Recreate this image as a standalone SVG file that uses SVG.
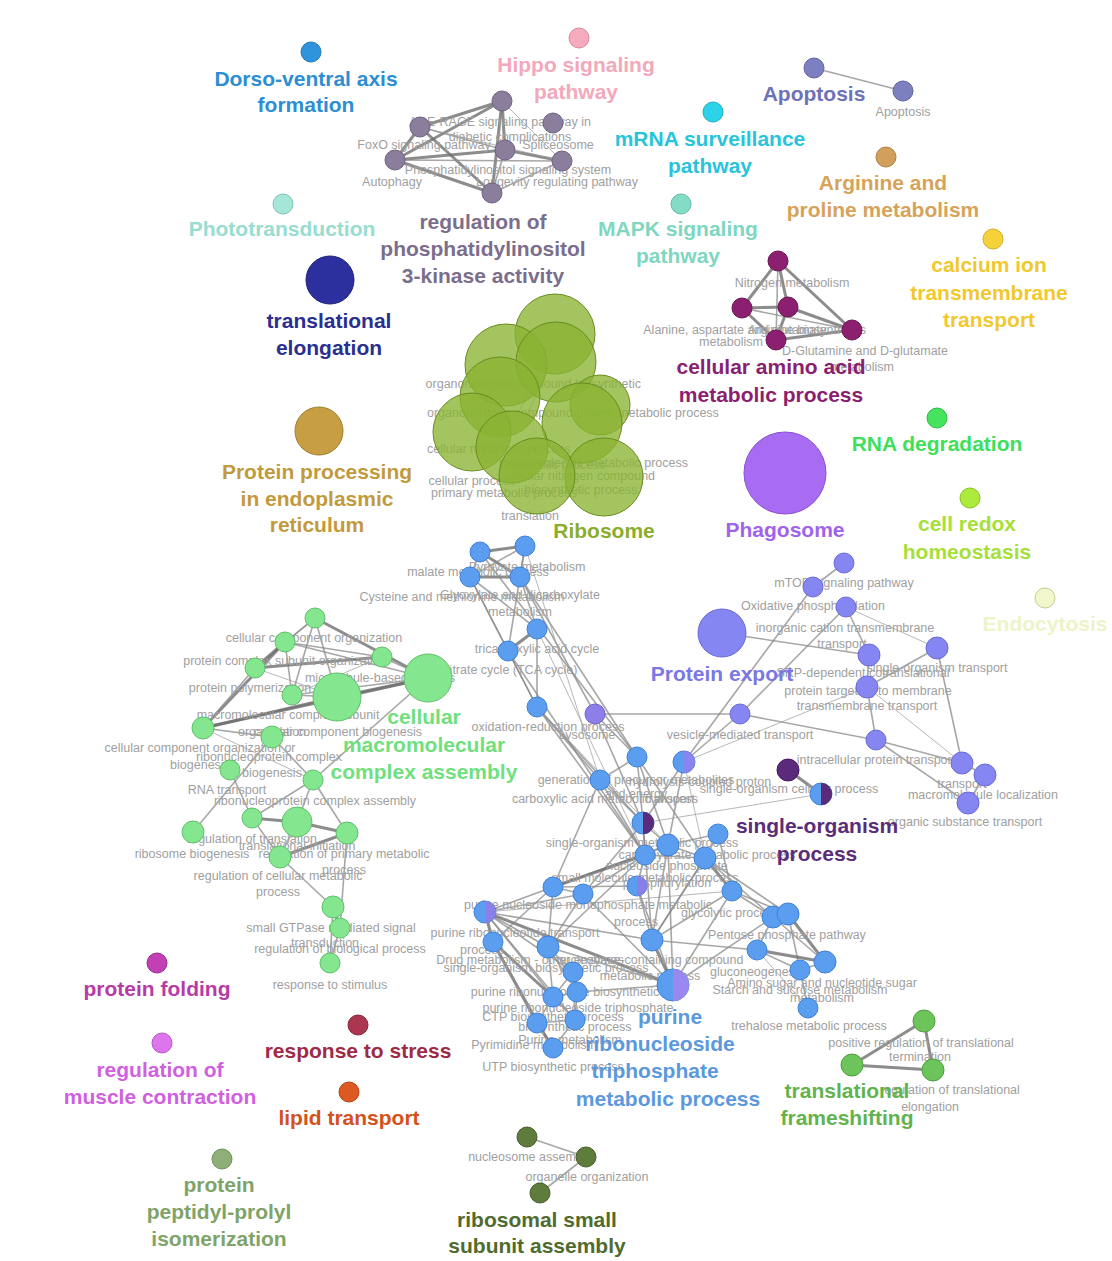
<svg xmlns="http://www.w3.org/2000/svg" width="1112" height="1261" viewBox="0 0 1112 1261">
<style>
.lb{font-family:"Liberation Sans",Arial,sans-serif;font-weight:bold;font-size:21px;text-anchor:middle}
.sm{font-family:"Liberation Sans",Arial,sans-serif;font-size:12.5px;fill:#a0a0a0;text-anchor:middle}
.e{stroke:#8a8a8a;stroke-width:1.6;opacity:.75}
.t{stroke:#707070;stroke-width:3;opacity:.8}
.n{stroke:#9a9a9a;stroke-width:1;opacity:.7}
.pi{fill:#8b7d9c;stroke:#6f6282;stroke-width:1}
.aa{fill:#8c1f70;stroke:#6a1554;stroke-width:1}
.gr{fill:#84e68e;stroke:#5fbf6b;stroke-width:1}
.bl{fill:#5b9ef0;stroke:#3f80d6;stroke-width:1}
.vb{fill:#8686f2;stroke:#6a6ad8;stroke-width:1}
.dp{fill:#5b2a7a;stroke:#45195e;stroke-width:1}
.rb{fill:#8ab432;fill-opacity:.78;stroke:#6a8c1e;stroke-width:1}
</style>
<rect width="1112" height="1261" fill="#ffffff"/>

<g id="connectors">
<line class="e" x1="814" y1="68" x2="903" y2="91"/>
<line class="t" x1="420" y1="127" x2="502" y2="101"/>
<line class="t" x1="395" y1="160" x2="502" y2="101"/>
<line class="e" x1="420" y1="127" x2="505" y2="150"/>
<line class="t" x1="420" y1="127" x2="492" y2="193"/>
<line class="t" x1="420" y1="127" x2="395" y2="160"/>
<line class="t" x1="502" y1="101" x2="505" y2="150"/>
<line class="t" x1="502" y1="101" x2="492" y2="193"/>
<line class="n" x1="502" y1="101" x2="562" y2="161"/>
<line class="t" x1="395" y1="160" x2="505" y2="150"/>
<line class="e" x1="395" y1="160" x2="562" y2="161"/>
<line class="t" x1="395" y1="160" x2="492" y2="193"/>
<line class="t" x1="505" y1="150" x2="562" y2="161"/>
<line class="e" x1="562" y1="161" x2="492" y2="193"/>
<line class="n" x1="420" y1="127" x2="562" y2="161"/>
<line class="e" x1="505" y1="150" x2="492" y2="193"/>
<line class="t" x1="778" y1="261" x2="742" y2="308"/>
<line class="t" x1="778" y1="261" x2="788" y2="307"/>
<line class="e" x1="778" y1="261" x2="776" y2="340"/>
<line class="t" x1="778" y1="261" x2="852" y2="330"/>
<line class="t" x1="742" y1="308" x2="788" y2="307"/>
<line class="t" x1="742" y1="308" x2="776" y2="340"/>
<line class="e" x1="742" y1="308" x2="852" y2="330"/>
<line class="t" x1="788" y1="307" x2="776" y2="340"/>
<line class="t" x1="788" y1="307" x2="852" y2="330"/>
<line class="t" x1="776" y1="340" x2="852" y2="330"/>
<line class="n" x1="540" y1="370" x2="520" y2="410"/>
<line class="n" x1="548" y1="368" x2="528" y2="412"/>
<line class="e" x1="315" y1="618" x2="285" y2="642"/>
<line class="e" x1="315" y1="618" x2="255" y2="668"/>
<line class="e" x1="315" y1="618" x2="292" y2="695"/>
<line class="t" x1="315" y1="618" x2="428" y2="678"/>
<line class="e" x1="315" y1="618" x2="337" y2="697"/>
<line class="t" x1="285" y1="642" x2="255" y2="668"/>
<line class="e" x1="285" y1="642" x2="382" y2="657"/>
<line class="e" x1="285" y1="642" x2="292" y2="695"/>
<line class="t" x1="285" y1="642" x2="203" y2="728"/>
<line class="e" x1="285" y1="642" x2="428" y2="678"/>
<line class="t" x1="255" y1="668" x2="382" y2="657"/>
<line class="e" x1="255" y1="668" x2="203" y2="728"/>
<line class="n" x1="255" y1="668" x2="337" y2="697"/>
<line class="e" x1="382" y1="657" x2="428" y2="678"/>
<line class="n" x1="382" y1="657" x2="292" y2="695"/>
<line class="e" x1="292" y1="695" x2="337" y2="697"/>
<line class="e" x1="292" y1="695" x2="428" y2="678"/>
<line class="t" x1="337" y1="697" x2="203" y2="728"/>
<line class="t" x1="428" y1="678" x2="203" y2="728"/>
<line class="t" x1="337" y1="697" x2="428" y2="678"/>
<line class="e" x1="203" y1="728" x2="272" y2="737"/>
<line class="e" x1="272" y1="737" x2="313" y2="780"/>
<line class="n" x1="203" y1="728" x2="313" y2="780"/>
<line class="e" x1="428" y1="678" x2="313" y2="780"/>
<line class="e" x1="230" y1="770" x2="252" y2="818"/>
<line class="e" x1="193" y1="832" x2="272" y2="737"/>
<line class="e" x1="313" y1="780" x2="252" y2="818"/>
<line class="e" x1="313" y1="780" x2="297" y2="822"/>
<line class="e" x1="313" y1="780" x2="347" y2="833"/>
<line class="t" x1="252" y1="818" x2="297" y2="822"/>
<line class="e" x1="252" y1="818" x2="280" y2="857"/>
<line class="t" x1="297" y1="822" x2="347" y2="833"/>
<line class="e" x1="297" y1="822" x2="280" y2="857"/>
<line class="t" x1="347" y1="833" x2="280" y2="857"/>
<line class="e" x1="280" y1="857" x2="333" y2="907"/>
<line class="e" x1="347" y1="833" x2="340" y2="928"/>
<line class="t" x1="333" y1="907" x2="340" y2="928"/>
<line class="e" x1="340" y1="928" x2="330" y2="963"/>
<line class="e" x1="333" y1="907" x2="330" y2="963"/>
<line class="t" x1="480" y1="552" x2="525" y2="546"/>
<line class="e" x1="480" y1="552" x2="470" y2="577"/>
<line class="t" x1="480" y1="552" x2="520" y2="577"/>
<line class="e" x1="525" y1="546" x2="470" y2="577"/>
<line class="e" x1="525" y1="546" x2="520" y2="577"/>
<line class="t" x1="470" y1="577" x2="520" y2="577"/>
<line class="e" x1="470" y1="577" x2="537" y2="629"/>
<line class="e" x1="520" y1="577" x2="537" y2="629"/>
<line class="t" x1="537" y1="629" x2="508" y2="651"/>
<line class="e" x1="470" y1="577" x2="508" y2="651"/>
<line class="e" x1="525" y1="546" x2="508" y2="651"/>
<line class="e" x1="537" y1="629" x2="537" y2="707"/>
<line class="e" x1="470" y1="577" x2="537" y2="707"/>
<line class="e" x1="480" y1="552" x2="637" y2="757"/>
<line class="e" x1="520" y1="577" x2="595" y2="714"/>
<line class="e" x1="520" y1="577" x2="637" y2="757"/>
<line class="n" x1="525" y1="546" x2="600" y2="780"/>
<line class="e" x1="508" y1="651" x2="537" y2="707"/>
<line class="e" x1="508" y1="651" x2="645" y2="855"/>
<line class="n" x1="537" y1="629" x2="645" y2="855"/>
<line class="e" x1="537" y1="707" x2="600" y2="780"/>
<line class="e" x1="537" y1="707" x2="643" y2="823"/>
<line class="e" x1="537" y1="707" x2="645" y2="855"/>
<line class="n" x1="537" y1="707" x2="668" y2="845"/>
<line class="e" x1="637" y1="757" x2="600" y2="780"/>
<line class="e" x1="637" y1="757" x2="643" y2="823"/>
<line class="e" x1="637" y1="757" x2="668" y2="845"/>
<line class="e" x1="637" y1="757" x2="705" y2="858"/>
<line class="e" x1="637" y1="757" x2="595" y2="714"/>
<line class="e" x1="595" y1="714" x2="643" y2="823"/>
<line class="e" x1="595" y1="714" x2="740" y2="714"/>
<line class="e" x1="684" y1="762" x2="643" y2="823"/>
<line class="e" x1="684" y1="762" x2="668" y2="845"/>
<line class="n" x1="684" y1="762" x2="705" y2="858"/>
<line class="e" x1="684" y1="762" x2="813" y2="587"/>
<line class="e" x1="684" y1="762" x2="740" y2="714"/>
<line class="n" x1="684" y1="762" x2="867" y2="687"/>
<line class="e" x1="600" y1="780" x2="643" y2="823"/>
<line class="e" x1="600" y1="780" x2="553" y2="887"/>
<line class="e" x1="600" y1="780" x2="645" y2="855"/>
<line class="e" x1="643" y1="823" x2="645" y2="855"/>
<line class="e" x1="643" y1="823" x2="668" y2="845"/>
<line class="e" x1="643" y1="823" x2="652" y2="940"/>
<line class="e" x1="643" y1="823" x2="583" y2="894"/>
<line class="n" x1="643" y1="823" x2="821" y2="794"/>
<line class="e" x1="718" y1="834" x2="668" y2="845"/>
<line class="e" x1="718" y1="834" x2="705" y2="858"/>
<line class="e" x1="718" y1="834" x2="732" y2="891"/>
<line class="e" x1="668" y1="845" x2="645" y2="855"/>
<line class="e" x1="668" y1="845" x2="705" y2="858"/>
<line class="e" x1="668" y1="845" x2="553" y2="887"/>
<line class="e" x1="645" y1="855" x2="705" y2="858"/>
<line class="t" x1="645" y1="855" x2="553" y2="887"/>
<line class="e" x1="645" y1="855" x2="583" y2="894"/>
<line class="t" x1="705" y1="858" x2="732" y2="891"/>
<line class="e" x1="705" y1="858" x2="773" y2="917"/>
<line class="e" x1="705" y1="858" x2="788" y2="914"/>
<line class="e" x1="732" y1="891" x2="773" y2="917"/>
<line class="e" x1="732" y1="891" x2="788" y2="914"/>
<line class="t" x1="773" y1="917" x2="788" y2="914"/>
<line class="e" x1="773" y1="917" x2="757" y2="950"/>
<line class="e" x1="773" y1="917" x2="825" y2="962"/>
<line class="t" x1="788" y1="914" x2="825" y2="962"/>
<line class="e" x1="788" y1="914" x2="800" y2="970"/>
<line class="t" x1="757" y1="950" x2="825" y2="962"/>
<line class="e" x1="757" y1="950" x2="800" y2="970"/>
<line class="e" x1="825" y1="962" x2="800" y2="970"/>
<line class="e" x1="800" y1="970" x2="808" y2="1008"/>
<line class="n" x1="757" y1="950" x2="808" y2="1008"/>
<line class="e" x1="553" y1="887" x2="485" y2="912"/>
<line class="e" x1="553" y1="887" x2="583" y2="894"/>
<line class="e" x1="553" y1="887" x2="548" y2="947"/>
<line class="e" x1="583" y1="894" x2="485" y2="912"/>
<line class="e" x1="583" y1="894" x2="548" y2="947"/>
<line class="e" x1="583" y1="894" x2="673" y2="985"/>
<line class="e" x1="637" y1="886" x2="652" y2="940"/>
<line class="e" x1="637" y1="886" x2="645" y2="855"/>
<line class="e" x1="637" y1="886" x2="673" y2="985"/>
<line class="e" x1="637" y1="886" x2="553" y2="887"/>
<line class="t" x1="652" y1="940" x2="673" y2="985"/>
<line class="e" x1="652" y1="940" x2="757" y2="950"/>
<line class="e" x1="652" y1="940" x2="485" y2="912"/>
<line class="e" x1="652" y1="940" x2="732" y2="891"/>
<line class="e" x1="652" y1="940" x2="705" y2="858"/>
<line class="t" x1="485" y1="912" x2="493" y2="942"/>
<line class="e" x1="485" y1="912" x2="548" y2="947"/>
<line class="e" x1="485" y1="912" x2="573" y2="972"/>
<line class="e" x1="485" y1="912" x2="553" y2="997"/>
<line class="t" x1="485" y1="912" x2="673" y2="985"/>
<line class="e" x1="485" y1="912" x2="575" y2="1020"/>
<line class="n" x1="485" y1="912" x2="732" y2="891"/>
<line class="t" x1="493" y1="942" x2="553" y2="997"/>
<line class="t" x1="493" y1="942" x2="537" y2="1023"/>
<line class="e" x1="493" y1="942" x2="553" y2="1048"/>
<line class="e" x1="548" y1="947" x2="573" y2="972"/>
<line class="e" x1="548" y1="947" x2="577" y2="992"/>
<line class="e" x1="548" y1="947" x2="553" y2="997"/>
<line class="e" x1="548" y1="947" x2="673" y2="985"/>
<line class="e" x1="573" y1="972" x2="577" y2="992"/>
<line class="e" x1="573" y1="972" x2="553" y2="997"/>
<line class="e" x1="573" y1="972" x2="575" y2="1020"/>
<line class="e" x1="577" y1="992" x2="553" y2="997"/>
<line class="e" x1="577" y1="992" x2="575" y2="1020"/>
<line class="e" x1="553" y1="997" x2="537" y2="1023"/>
<line class="e" x1="553" y1="997" x2="575" y2="1020"/>
<line class="e" x1="537" y1="1023" x2="575" y2="1020"/>
<line class="t" x1="537" y1="1023" x2="553" y2="1048"/>
<line class="e" x1="575" y1="1020" x2="553" y2="1048"/>
<line class="e" x1="577" y1="992" x2="673" y2="985"/>
<line class="e" x1="553" y1="887" x2="493" y2="942"/>
<line class="e" x1="645" y1="855" x2="548" y2="947"/>
<line class="e" x1="732" y1="891" x2="673" y2="985"/>
<line class="e" x1="773" y1="917" x2="673" y2="985"/>
<line class="e" x1="705" y1="858" x2="652" y2="940"/>
<line class="e" x1="668" y1="845" x2="652" y2="940"/>
<line class="e" x1="668" y1="845" x2="673" y2="985"/>
<line class="e" x1="844" y1="563" x2="813" y2="587"/>
<line class="e" x1="846" y1="607" x2="740" y2="714"/>
<line class="e" x1="846" y1="607" x2="869" y2="655"/>
<line class="n" x1="846" y1="607" x2="937" y2="648"/>
<line class="e" x1="722" y1="633" x2="869" y2="655"/>
<line class="e" x1="937" y1="648" x2="867" y2="687"/>
<line class="e" x1="937" y1="648" x2="962" y2="763"/>
<line class="e" x1="869" y1="655" x2="867" y2="687"/>
<line class="e" x1="867" y1="687" x2="876" y2="740"/>
<line class="n" x1="867" y1="687" x2="962" y2="763"/>
<line class="e" x1="740" y1="714" x2="876" y2="740"/>
<line class="e" x1="876" y1="740" x2="962" y2="763"/>
<line class="e" x1="876" y1="740" x2="968" y2="803"/>
<line class="e" x1="962" y1="763" x2="985" y2="775"/>
<line class="e" x1="985" y1="775" x2="968" y2="803"/>
<line class="t" x1="788" y1="770" x2="821" y2="794"/>
<line class="t" x1="924" y1="1021" x2="852" y2="1065"/>
<line class="t" x1="852" y1="1065" x2="933" y2="1070"/>
<line class="t" x1="924" y1="1021" x2="933" y2="1070"/>
<line class="e" x1="527" y1="1137" x2="586" y2="1157"/>
<line class="e" x1="586" y1="1157" x2="540" y2="1193"/>
</g>

<g id="small-labels">
<text class="sm" x="500" y="126">AGE-RAGE signaling pathway in</text>
<text class="sm" x="510" y="141">diabetic complications</text>
<text class="sm" x="424" y="149">FoxO signaling pathway</text>
<text class="sm" x="558" y="149">Spliceosome</text>
<text class="sm" x="508" y="174">Phosphatidylinositol signaling system</text>
<text class="sm" x="392" y="186">Autophagy</text>
<text class="sm" x="557" y="186">Longevity regulating pathway</text>
<text class="sm" x="903" y="116">Apoptosis</text>
<text class="sm" x="792" y="287">Nitrogen metabolism</text>
<text class="sm" x="735" y="334">Alanine, aspartate and glutamate</text>
<text class="sm" x="807" y="334">Arginine biosynthesis</text>
<text class="sm" x="731" y="346">metabolism</text>
<text class="sm" x="865" y="355">D-Glutamine and D-glutamate</text>
<text class="sm" x="862" y="371">metabolism</text>
<text class="sm" x="641" y="388" style="text-anchor:end">organonitrogen compound biosynthetic</text>
<text class="sm" x="427" y="417" style="text-anchor:start">organonitrogen compound protein metabolic process</text>
<text class="sm" x="427" y="453" style="text-anchor:start">cellular metabolic process</text>
<text class="sm" x="688" y="467" style="text-anchor:end">macromolecule metabolic process</text>
<text class="sm" x="555" y="469">metabolic process</text>
<text class="sm" x="580" y="480">cellular nitrogen compound</text>
<text class="sm" x="472" y="485">cellular process</text>
<text class="sm" x="431" y="497" style="text-anchor:start">primary metabolic process</text>
<text class="sm" x="581" y="494">biosynthetic process</text>
<text class="sm" x="530" y="520">translation</text>
</g>

<g id="node-ribosome">
<circle class="rb" cx="555" cy="334" r="40"/>
<circle class="rb" cx="506" cy="365" r="41"/>
<circle class="rb" cx="556" cy="362" r="40"/>
<circle class="rb" cx="500" cy="397" r="40"/>
<circle class="rb" cx="600" cy="405" r="30"/>
<circle class="rb" cx="472" cy="432" r="39"/>
<circle class="rb" cx="582" cy="423" r="40"/>
<circle class="rb" cx="512" cy="447" r="36"/>
<circle class="rb" cx="604" cy="477" r="39"/>
<circle class="rb" cx="537" cy="476" r="38"/>
<text class="lb" x="604" y="538" fill="#8aae2c">Ribosome</text>
</g>

<g id="small-labels-2">
<text class="sm" x="314" y="642">cellular component organization</text>
<text class="sm" x="285" y="665">protein complex subunit organization</text>
<text class="sm" x="380" y="682">microtubule-based process</text>
<text class="sm" x="250" y="692">protein polymerization</text>
<text class="sm" x="288" y="719">macromolecular complex subunit</text>
<text class="sm" x="272" y="736">organization</text>
<text class="sm" x="338" y="736">cellular component biogenesis</text>
<text class="sm" x="200" y="752">cellular component organization or</text>
<text class="sm" x="269" y="761">ribonucleoprotein complex</text>
<text class="sm" x="200" y="769">biogenesis</text>
<text class="sm" x="272" y="777">biogenesis</text>
<text class="sm" x="227" y="794">RNA transport</text>
<text class="sm" x="315" y="805">ribonucleoprotein complex assembly</text>
<text class="sm" x="252" y="843">regulation of translation</text>
<text class="sm" x="297" y="850">translational initiation</text>
<text class="sm" x="192" y="858">ribosome biogenesis</text>
<text class="sm" x="344" y="858">regulation of primary metabolic</text>
<text class="sm" x="344" y="874">process</text>
<text class="sm" x="278" y="880">regulation of cellular metabolic</text>
<text class="sm" x="278" y="896">process</text>
<text class="sm" x="331" y="932">small GTPase mediated signal</text>
<text class="sm" x="325" y="947">transduction</text>
<text class="sm" x="340" y="953">regulation of biological process</text>
<text class="sm" x="330" y="989">response to stimulus</text>
<text class="sm" x="478" y="576">malate metabolic process</text>
<text class="sm" x="527" y="571">Pyruvate metabolism</text>
<text class="sm" x="462" y="601">Cysteine and methionine metabolism</text>
<text class="sm" x="520" y="599">Glyoxylate and dicarboxylate</text>
<text class="sm" x="520" y="616">metabolism</text>
<text class="sm" x="537" y="653">tricarboxylic acid cycle</text>
<text class="sm" x="509" y="674">Citrate cycle (TCA cycle)</text>
<text class="sm" x="548" y="731">oxidation-reduction process</text>
<text class="sm" x="587" y="739">Lysosome</text>
<text class="sm" x="740" y="739">vesicle-mediated transport</text>
<text class="sm" x="636" y="784">generation of precursor metabolites</text>
<text class="sm" x="636" y="798">and energy</text>
<text class="sm" x="700" y="786">hydrolysis-coupled proton</text>
<text class="sm" x="670" y="803">transport</text>
<text class="sm" x="789" y="793">single-organism cellular process</text>
<text class="sm" x="605" y="803">carboxylic acid metabolic process</text>
<text class="sm" x="642" y="847">single-organism metabolic process</text>
<text class="sm" x="707" y="859">carbohydrate metabolic process</text>
<text class="sm" x="667" y="870">nucleoside phosphate</text>
<text class="sm" x="645" y="882">small molecule metabolic process</text>
<text class="sm" x="667" y="887">phosphorylation</text>
<text class="sm" x="588" y="909">purine nucleoside monophosphate metabolic</text>
<text class="sm" x="730" y="917">glycolytic process</text>
<text class="sm" x="636" y="926">process</text>
<text class="sm" x="515" y="937">purine ribonucleotide transport</text>
<text class="sm" x="787" y="939">Pentose phosphate pathway</text>
<text class="sm" x="482" y="954">process</text>
<text class="sm" x="530" y="964">Drug metabolism - other enzymes</text>
<text class="sm" x="650" y="964">nucleobase-containing compound</text>
<text class="sm" x="546" y="972">single-organism biosynthetic process</text>
<text class="sm" x="757" y="976">gluconeogenesis</text>
<text class="sm" x="650" y="980">metabolic process</text>
<text class="sm" x="822" y="987">Amino sugar and nucleotide sugar</text>
<text class="sm" x="800" y="994">Starch and sucrose metabolism</text>
<text class="sm" x="822" y="1002">metabolism</text>
<text class="sm" x="565" y="996">purine ribonucleoside biosynthetic</text>
<text class="sm" x="578" y="1012">purine ribonucleoside triphosphate</text>
<text class="sm" x="553" y="1021">CTP biosynthetic process</text>
<text class="sm" x="575" y="1031">biosynthetic process</text>
<text class="sm" x="570" y="1044">Purine metabolism</text>
<text class="sm" x="534" y="1049">Pyrimidine metabolism</text>
<text class="sm" x="553" y="1071">UTP biosynthetic process</text>
<text class="sm" x="809" y="1030">trehalose metabolic process</text>
<text class="sm" x="844" y="587">mTOR signaling pathway</text>
<text class="sm" x="813" y="610">Oxidative phosphorylation</text>
<text class="sm" x="845" y="632">inorganic cation transmembrane</text>
<text class="sm" x="842" y="648">transport</text>
<text class="sm" x="863" y="677">SRP-dependent cotranslational</text>
<text class="sm" x="937" y="672">single-organism transport</text>
<text class="sm" x="868" y="695">protein targeting to membrane</text>
<text class="sm" x="867" y="710">transmembrane transport</text>
<text class="sm" x="876" y="764">intracellular protein transport</text>
<text class="sm" x="962" y="788">transport</text>
<text class="sm" x="983" y="799">macromolecule localization</text>
<text class="sm" x="965" y="826">organic substance transport</text>
<text class="sm" x="921" y="1047">positive regulation of translational</text>
<text class="sm" x="920" y="1061">termination</text>
<text class="sm" x="950" y="1094">regulation of translational</text>
<text class="sm" x="930" y="1111">elongation</text>
<text class="sm" x="530" y="1161">nucleosome assembly</text>
<text class="sm" x="587" y="1181">organelle organization</text>
</g>

<g id="node-pi3k">
<circle class="pi" cx="502" cy="101" r="10"/>
<circle class="pi" cx="420" cy="127" r="10"/>
<circle class="pi" cx="553" cy="123" r="10"/>
<circle class="pi" cx="395" cy="160" r="10"/>
<circle class="pi" cx="505" cy="150" r="10"/>
<circle class="pi" cx="562" cy="161" r="10"/>
<circle class="pi" cx="492" cy="193" r="10"/>
<text class="lb" fill="#7b6e8c"><tspan x="483" y="229">regulation of</tspan><tspan x="483" y="256">phosphatidylinositol</tspan><tspan x="483" y="283">3-kinase activity</tspan></text>
</g>

<g id="node-amino">
<circle class="aa" cx="778" cy="261" r="10"/>
<circle class="aa" cx="742" cy="308" r="10"/>
<circle class="aa" cx="788" cy="307" r="10"/>
<circle class="aa" cx="776" cy="340" r="10"/>
<circle class="aa" cx="852" cy="330" r="10"/>
<text class="lb" fill="#8b1f6f"><tspan x="771" y="374">cellular amino acid</tspan><tspan x="771" y="402">metabolic process</tspan></text>
</g>

<g id="node-green">
<circle class="gr" cx="315" cy="618" r="10"/>
<circle class="gr" cx="285" cy="642" r="10"/>
<circle class="gr" cx="255" cy="668" r="10"/>
<circle class="gr" cx="382" cy="657" r="10"/>
<circle class="gr" cx="428" cy="678" r="24"/>
<circle class="gr" cx="292" cy="695" r="10"/>
<circle class="gr" cx="337" cy="697" r="24"/>
<circle class="gr" cx="203" cy="728" r="11"/>
<circle class="gr" cx="272" cy="737" r="11"/>
<circle class="gr" cx="230" cy="770" r="10"/>
<circle class="gr" cx="313" cy="780" r="10"/>
<circle class="gr" cx="252" cy="818" r="10"/>
<circle class="gr" cx="297" cy="822" r="15"/>
<circle class="gr" cx="193" cy="832" r="11"/>
<circle class="gr" cx="347" cy="833" r="11"/>
<circle class="gr" cx="280" cy="857" r="11"/>
<circle class="gr" cx="333" cy="907" r="11"/>
<circle class="gr" cx="340" cy="928" r="10"/>
<circle class="gr" cx="330" cy="963" r="10"/>
<text class="lb" fill="#70df7e"><tspan x="424" y="724">cellular</tspan><tspan x="424" y="752">macromolecular</tspan><tspan x="424" y="779">complex assembly</tspan></text>
</g>

<g id="node-blue">
<circle class="bl" cx="480" cy="552" r="10"/>
<circle class="bl" cx="525" cy="546" r="10"/>
<circle class="bl" cx="470" cy="577" r="10"/>
<circle class="bl" cx="520" cy="577" r="10"/>
<circle class="bl" cx="537" cy="629" r="10"/>
<circle class="bl" cx="508" cy="651" r="10"/>
<circle class="bl" cx="537" cy="707" r="10"/>
<circle cx="595" cy="714" r="10" fill="#8c80e8" stroke="#6e62cc"/>
<circle class="bl" cx="637" cy="757" r="10"/>
<circle class="bl" cx="684" cy="762" r="11"/><path d="M684,751 A11,11 0 0 1 684,773 Z" fill="#8a84f0"/>
<circle class="bl" cx="600" cy="780" r="10"/>
<circle class="bl" cx="643" cy="823" r="11"/><path d="M643,812 A11,11 0 0 1 643,834 Z" fill="#5b2a7a"/>
<circle class="bl" cx="718" cy="834" r="10"/>
<circle class="bl" cx="668" cy="845" r="11"/>
<circle class="bl" cx="645" cy="855" r="10"/>
<circle class="bl" cx="705" cy="858" r="11"/>
<circle class="bl" cx="553" cy="887" r="10"/>
<circle class="bl" cx="583" cy="894" r="10"/>
<circle class="bl" cx="637" cy="886" r="10"/><path d="M637,876 A10,10 0 0 1 637,896 Z" fill="#8a7ee8"/>
<circle class="bl" cx="732" cy="891" r="10"/>
<circle class="bl" cx="773" cy="917" r="11"/>
<circle class="bl" cx="788" cy="914" r="11"/>
<circle class="bl" cx="485" cy="912" r="11"/><path d="M485,901 A11,11 0 0 1 485,923 Z" fill="#8a80e8"/>
<circle class="bl" cx="493" cy="942" r="10"/>
<circle class="bl" cx="548" cy="947" r="11"/>
<circle class="bl" cx="652" cy="940" r="11"/>
<circle class="bl" cx="757" cy="950" r="10"/>
<circle class="bl" cx="825" cy="962" r="11"/>
<circle class="bl" cx="800" cy="970" r="10"/>
<circle class="bl" cx="573" cy="972" r="10"/>
<circle class="bl" cx="577" cy="992" r="10"/>
<circle class="bl" cx="553" cy="997" r="10"/>
<circle class="bl" cx="673" cy="985" r="16"/><path d="M673,969 A16,16 0 0 1 673,1001 Z" fill="#9a88f0"/>
<circle class="bl" cx="537" cy="1023" r="10"/>
<circle class="bl" cx="575" cy="1020" r="10"/>
<circle class="bl" cx="553" cy="1048" r="10"/>
<circle class="bl" cx="808" cy="1008" r="10"/>
<text class="lb" fill="#5b98dc"><tspan x="670" y="1024">purine</tspan><tspan x="660" y="1051">ribonucleoside</tspan><tspan x="655" y="1078">triphosphate</tspan><tspan x="668" y="1106">metabolic process</tspan></text>
</g>

<g id="node-protein-export">
<circle class="vb" cx="844" cy="563" r="10"/>
<circle class="vb" cx="813" cy="587" r="10"/>
<circle class="vb" cx="846" cy="607" r="10"/>
<circle class="vb" cx="722" cy="633" r="24"/>
<circle class="vb" cx="937" cy="648" r="11"/>
<circle class="vb" cx="869" cy="655" r="11"/>
<circle class="vb" cx="867" cy="687" r="11"/>
<circle class="vb" cx="740" cy="714" r="10"/>
<circle class="vb" cx="876" cy="740" r="10"/>
<circle class="vb" cx="962" cy="763" r="11"/>
<circle class="vb" cx="985" cy="775" r="11"/>
<circle class="vb" cx="968" cy="803" r="11"/>
<text class="lb" x="722" y="681" fill="#7a78e4">Protein export</text>
</g>

<g id="node-single-organism">
<circle class="dp" cx="788" cy="770" r="11"/>
<circle class="bl" cx="821" cy="794" r="11"/><path d="M821,783 A11,11 0 0 1 821,805 Z" fill="#5b2a7a"/>
<text class="lb" fill="#5a2d78"><tspan x="817" y="833">single-organism</tspan><tspan x="817" y="861">process</tspan></text>
</g>

<g id="node-dorso">
<circle cx="311" cy="52" r="10" fill="#2f94dc" stroke="#2377b8"/>
<text class="lb" fill="#2d8ed3"><tspan x="306" y="86">Dorso-ventral axis</tspan><tspan x="306" y="112">formation</tspan></text>
</g>
<g id="node-hippo">
<circle cx="579" cy="38" r="10" fill="#f6aabd" stroke="#d88a9e"/>
<text class="lb" fill="#f3a8bb"><tspan x="576" y="72">Hippo signaling</tspan><tspan x="576" y="99">pathway</tspan></text>
</g>
<g id="node-apoptosis">
<circle cx="814" cy="68" r="10" fill="#7d80c0" stroke="#6064a0"/>
<circle cx="903" cy="91" r="10" fill="#7d80c0" stroke="#6064a0"/>
<text class="lb" x="814" y="101" fill="#6d72b8">Apoptosis</text>
</g>
<g id="node-mrna">
<circle cx="713" cy="112" r="10" fill="#2bd2e8" stroke="#1cb0c4"/>
<text class="lb" fill="#28c4dc"><tspan x="710" y="146">mRNA surveillance</tspan><tspan x="710" y="173">pathway</tspan></text>
</g>
<g id="node-arginine">
<circle cx="886" cy="157" r="10" fill="#d3a05c" stroke="#b08040"/>
<text class="lb" fill="#d6a35a"><tspan x="883" y="190">Arginine and</tspan><tspan x="883" y="217">proline metabolism</tspan></text>
</g>
<g id="node-calcium">
<circle cx="993" cy="239" r="10" fill="#f5d23a" stroke="#d0ae20"/>
<text class="lb" fill="#f1c82e"><tspan x="989" y="272">calcium ion</tspan><tspan x="989" y="300">transmembrane</tspan><tspan x="989" y="327">transport</tspan></text>
</g>
<g id="node-phototransduction">
<circle cx="283" cy="204" r="10" fill="#a4e6d8" stroke="#80c4b6"/>
<text class="lb" x="282" y="236" fill="#97ddd0">Phototransduction</text>
</g>
<g id="node-mapk">
<circle cx="681" cy="204" r="10" fill="#84dcc6" stroke="#62bca6"/>
<text class="lb" fill="#7fd6c1"><tspan x="678" y="236">MAPK signaling</tspan><tspan x="678" y="263">pathway</tspan></text>
</g>
<g id="node-elongation">
<circle cx="330" cy="280" r="24" fill="#2c309e" stroke="#1e2278"/>
<text class="lb" fill="#2b2f8f"><tspan x="329" y="328">translational</tspan><tspan x="329" y="355">elongation</tspan></text>
</g>
<g id="node-er">
<circle cx="319" cy="431" r="24" fill="#c89e42" stroke="#a07c2c"/>
<text class="lb" fill="#c29a3d"><tspan x="317" y="479">Protein processing</tspan><tspan x="317" y="506">in endoplasmic</tspan><tspan x="317" y="532">reticulum</tspan></text>
</g>
<g id="node-rna-degradation">
<circle cx="937" cy="418" r="10" fill="#46e45e" stroke="#2cbc44"/>
<text class="lb" x="937" y="451" fill="#3ee05a">RNA degradation</text>
</g>
<g id="node-redox">
<circle cx="970" cy="498" r="10" fill="#acea3c" stroke="#88c420"/>
<text class="lb" fill="#a8de3a"><tspan x="967" y="531">cell redox</tspan><tspan x="967" y="559">homeostasis</tspan></text>
</g>
<g id="node-endocytosis">
<circle cx="1045" cy="598" r="10" fill="#f2f6cc" stroke="#c8cc90"/>
<text class="lb" x="1045" y="631" fill="#eef3c8">Endocytosis</text>
</g>
<g id="node-phagosome">
<circle cx="785" cy="473" r="41" fill="#a86cf2" stroke="#8a50d4"/>
<text class="lb" x="785" y="537" fill="#a064ec">Phagosome</text>
</g>
<g id="node-folding">
<circle cx="157" cy="963" r="10" fill="#c340b4" stroke="#9e2a90"/>
<text class="lb" x="157" y="996" fill="#b83aa6">protein folding</text>
</g>
<g id="node-muscle">
<circle cx="162" cy="1043" r="10" fill="#de74ee" stroke="#b856c8"/>
<text class="lb" fill="#d160e0"><tspan x="160" y="1077">regulation of</tspan><tspan x="160" y="1104">muscle contraction</tspan></text>
</g>
<g id="node-stress">
<circle cx="358" cy="1025" r="10" fill="#aa3650" stroke="#882438"/>
<text class="lb" x="358" y="1058" fill="#a02a46">response to stress</text>
</g>
<g id="node-lipid">
<circle cx="349" cy="1092" r="10" fill="#dc5a22" stroke="#b44214"/>
<text class="lb" x="349" y="1125" fill="#d4511c">lipid transport</text>
</g>
<g id="node-prolyl">
<circle cx="222" cy="1159" r="10" fill="#8eb078" stroke="#6e905a"/>
<text class="lb" fill="#80a368"><tspan x="219" y="1192">protein</tspan><tspan x="219" y="1219">peptidyl-prolyl</tspan><tspan x="219" y="1246">isomerization</tspan></text>
</g>
<g id="node-ribosomal-small">
<circle cx="527" cy="1137" r="10" fill="#5e7c3c" stroke="#465e2a"/>
<circle cx="586" cy="1157" r="10" fill="#5e7c3c" stroke="#465e2a"/>
<circle cx="540" cy="1193" r="10" fill="#5e7c3c" stroke="#465e2a"/>
<text class="lb" fill="#506b2e"><tspan x="537" y="1227">ribosomal small</tspan><tspan x="537" y="1253">subunit assembly</tspan></text>
</g>
<g id="node-frameshifting">
<circle cx="924" cy="1021" r="11" fill="#6cc45a" stroke="#4e9e40"/>
<circle cx="852" cy="1065" r="11" fill="#6cc45a" stroke="#4e9e40"/>
<circle cx="933" cy="1070" r="11" fill="#6cc45a" stroke="#4e9e40"/>
<text class="lb" fill="#62b34e"><tspan x="847" y="1098">translational</tspan><tspan x="847" y="1125">frameshifting</tspan></text>
</g>
</svg>
